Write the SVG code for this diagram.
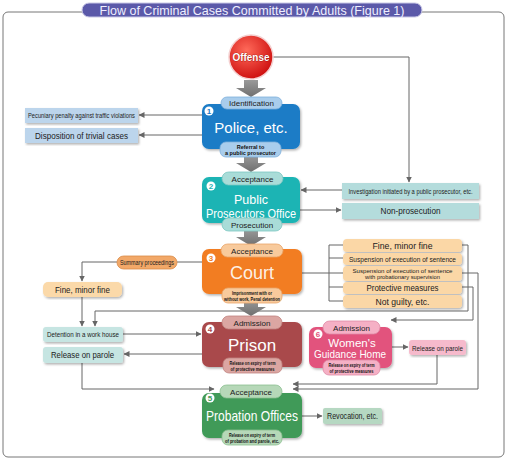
<svg xmlns="http://www.w3.org/2000/svg" width="525" height="467" viewBox="0 0 525 467">
<style>
text{font-family:"Liberation Sans",Arial,sans-serif;text-anchor:middle}
.c{fill:none;stroke:#666;stroke-width:1}
.ca{fill:none;stroke:#666;stroke-width:1;marker-end:url(#ah)}
.big{fill:#fff}
.sm{font-size:8px;fill:#222}
.tn{font-size:5.5px;fill:#111;font-weight:bold}
.bd{font-size:8px;font-weight:bold}
.pill{stroke-width:0.8}
</style>
<defs>
<marker id="ah" viewBox="0 0 6 6" refX="5.5" refY="3" markerWidth="6" markerHeight="6" orient="auto" markerUnits="userSpaceOnUse"><path d="M0,0L6,3L0,6z" fill="#666"/></marker>
<radialGradient id="rg" cx="0.4" cy="0.35" r="0.7"><stop offset="0" stop-color="#ff6a5a"/><stop offset="1" stop-color="#cc0c0c"/></radialGradient>
<linearGradient id="gg" x1="0" y1="0" x2="0" y2="1"><stop offset="0" stop-color="#9a9a9a"/><stop offset="1" stop-color="#6f6f6f"/></linearGradient>
<path id="bigArrow" d="M-7,0H7V8H15L0,17L-15,8H-7Z" fill="url(#gg)"/>
<filter id="sh" x="-10%" y="-10%" width="125%" height="130%"><feDropShadow dx="1.2" dy="1.5" stdDeviation="1" flood-color="#000" flood-opacity="0.3"/></filter>
</defs>
<rect width="525" height="467" fill="#fff"/>
<rect x="3" y="12" width="501" height="445" rx="5" fill="none" stroke="#777" stroke-width="1"/>
<g id="title">
<rect x="82" y="3" width="340" height="14" rx="7" fill="#5b59a9" stroke="#c9c8e6" stroke-width="1"/>
<text x="252" y="14.5" font-size="12.5" fill="#eef" textLength="305" lengthAdjust="spacingAndGlyphs">Flow of Criminal Cases Committed by Adults (Figure 1)</text>
</g>
<g id="connectors">
<path class="ca" d="M272,57H409V182"/>
<path class="ca" d="M342,190H301"/>
<path class="ca" d="M300,210H341"/>
<path class="ca" d="M202,115H139"/>
<path class="ca" d="M202,135H139"/>
<path class="c" d="M202,262H177"/>
<path class="ca" d="M117,262H82V281"/>
<path class="ca" d="M82,297V326"/>
<path class="c" d="M302,273H329M329,245V301M329,245H343M329,258H343M329,273H343M329,287H343M329,301H343"/>
<path class="ca" d="M462,245H468V311H95V326"/>
<path class="ca" d="M462,273H478V389H293"/>
<path class="ca" d="M462,287H473V320H391"/>
<path class="ca" d="M123,334H201"/>
<path class="ca" d="M202,354H124"/>
<path class="ca" d="M82,363V389H214"/>
<path class="ca" d="M392,347H408"/>
<path class="ca" d="M437,355V384H293"/>
<path class="ca" d="M302,416H322"/>
<use href="#bigArrow" x="251" y="80"/>
<use href="#bigArrow" x="251" y="155"/>
<use href="#bigArrow" x="251" y="229"/>
<use href="#bigArrow" x="251" y="299"/>
</g>
<g id="offense">
<circle cx="251" cy="57" r="22" fill="url(#rg)" stroke="#f4d0d0" stroke-width="1.5"/>
<text x="251" y="61" font-size="11.5" font-weight="bold" fill="#fff" stroke="#8a0000" stroke-width="0.6" paint-order="stroke" textLength="37" lengthAdjust="spacingAndGlyphs">Offense</text>
</g>
<g id="police">
<rect x="202" y="104" width="98" height="45" rx="7" fill="#1b7cc6" filter="url(#sh)"/>
<rect class="pill" x="221" y="97" width="61" height="12" rx="6" fill="#a9cdec" stroke="#7fb0dc"/>
<text class="sm" x="251.5" y="106">Identification</text>
<circle cx="209" cy="111" r="4.5" fill="#fff"/><text class="bd" x="209" y="114" fill="#1b7cc6">1</text>
<text class="big" x="251" y="133" font-size="15">Police, etc.</text>
<rect class="pill" x="220" y="142" width="61" height="15" rx="6" fill="#a9cdec" stroke="#7fb0dc"/>
<text class="tn" x="250.5" y="148.5">Referral to</text>
<text class="tn" x="250.5" y="155">a public prosecutor</text>
</g>
<g id="left-police">
<rect x="25" y="108" width="113" height="15" fill="#bcd5ec" filter="url(#sh)"/>
<text x="81.5" y="118" font-size="7" fill="#222" textLength="107" lengthAdjust="spacingAndGlyphs">Pecuniary penalty against traffic violations</text>
<rect x="25" y="128" width="113" height="15" fill="#bcd5ec" filter="url(#sh)"/>
<text x="81.5" y="138.5" font-size="9" fill="#222" textLength="93" lengthAdjust="spacingAndGlyphs">Disposition of trivial cases</text>
</g>
<g id="prosecutor">
<rect x="202" y="177" width="98" height="46" rx="7" fill="#1db4b4" filter="url(#sh)"/>
<rect class="pill" x="222" y="172" width="61" height="13" rx="6.5" fill="#a9dcd8" stroke="#7cc6c2"/>
<text class="sm" x="252.5" y="181.5">Acceptance</text>
<circle cx="211" cy="186" r="4.5" fill="#fff"/><text class="bd" x="211" y="189" fill="#1db4b4">2</text>
<text class="big" x="251" y="204" font-size="12.5">Public</text>
<text class="big" x="251" y="218" font-size="12.5" textLength="90" lengthAdjust="spacingAndGlyphs">Prosecutors Office</text>
<rect class="pill" x="222" y="218" width="60" height="13" rx="6.5" fill="#a9dcd8" stroke="#7cc6c2"/>
<text class="sm" x="252" y="227.5">Prosecution</text>
</g>
<g id="investigation">
<rect x="342" y="183" width="137" height="16" fill="#b4dcdc" filter="url(#sh)"/>
<text x="410.5" y="193.5" font-size="7" fill="#222" textLength="124" lengthAdjust="spacingAndGlyphs">Investigation initiated by a public prosecutor, etc.</text>
<rect x="342" y="203" width="137" height="16" fill="#b4dcdc" filter="url(#sh)"/>
<text x="410.5" y="214" font-size="9.5" fill="#222" textLength="60" lengthAdjust="spacingAndGlyphs">Non-prosecution</text>
</g>
<g id="court">
<rect x="202" y="249" width="100" height="45" rx="7" fill="#f27d22" filter="url(#sh)"/>
<rect class="pill" x="221" y="244" width="62" height="13" rx="6.5" fill="#f8ca9c" stroke="#e8a56a"/>
<text class="sm" x="252" y="253.5">Acceptance</text>
<circle cx="211" cy="258" r="4.5" fill="#fff"/><text class="bd" x="211" y="261" fill="#f27d22">3</text>
<text class="big" x="252" y="279" font-size="18" fill-opacity="0.9">Court</text>
<rect class="pill" x="222" y="288" width="60" height="15" rx="6" fill="#f8ca9c" stroke="#e8a56a"/>
<text class="tn" x="252" y="294.5" textLength="40" lengthAdjust="spacingAndGlyphs">Imprisonment with or</text>
<text class="tn" x="252" y="300.5" textLength="56" lengthAdjust="spacingAndGlyphs">without work, Penal detention</text>
</g>
<g id="summary">
<rect x="117" y="256" width="60" height="13" rx="6.5" fill="#f2a868" stroke="#d98a48" stroke-width="0.8"/>
<text x="147" y="265" font-size="7.5" fill="#222" textLength="54" lengthAdjust="spacingAndGlyphs">Summary proceedings</text>
</g>
<g id="fine-left">
<rect x="43" y="282" width="79" height="15" rx="5" fill="#fbd9a9" filter="url(#sh)"/>
<text x="82.5" y="292.5" font-size="9.5" fill="#222" textLength="55" lengthAdjust="spacingAndGlyphs">Fine, minor fine</text>
</g>
<g id="court-results">
<rect x="343" y="239" width="119" height="13" rx="4" fill="#fbd7a6" filter="url(#sh)"/>
<text x="402.5" y="248.5" font-size="9" fill="#222" textLength="60" lengthAdjust="spacingAndGlyphs">Fine, minor fine</text>
<rect x="343" y="253" width="119" height="12" rx="4" fill="#fbd7a6" filter="url(#sh)"/>
<text x="402.5" y="261.5" font-size="7" fill="#222" textLength="107" lengthAdjust="spacingAndGlyphs">Suspension of execution of sentence</text>
<rect x="343" y="266" width="119" height="15" rx="4" fill="#fbd7a6" filter="url(#sh)"/>
<text x="402.5" y="272.5" font-size="6" fill="#222" textLength="100" lengthAdjust="spacingAndGlyphs">Suspension of execution of sentence</text>
<text x="402.5" y="279" font-size="6" fill="#222" textLength="75" lengthAdjust="spacingAndGlyphs">with probationary supervision</text>
<rect x="343" y="282" width="119" height="12" rx="4" fill="#fbd7a6" filter="url(#sh)"/>
<text x="402.5" y="291" font-size="9" fill="#222" textLength="72" lengthAdjust="spacingAndGlyphs">Protective measures</text>
<rect x="343" y="295" width="119" height="13" rx="4" fill="#fbd7a6" filter="url(#sh)"/>
<text x="402.5" y="304.5" font-size="9" fill="#222" textLength="54" lengthAdjust="spacingAndGlyphs">Not guilty, etc.</text>
</g>
<g id="workhouse">
<rect x="43" y="327" width="80" height="15" rx="3" fill="#c6e5e2" filter="url(#sh)"/>
<text x="83" y="337" font-size="8" fill="#222" textLength="72" lengthAdjust="spacingAndGlyphs">Detention in a work house</text>
</g>
<g id="parole-left">
<rect x="43" y="347" width="80" height="16" rx="3" fill="#c6e5e2" filter="url(#sh)"/>
<text x="82.5" y="358" font-size="9" fill="#222" textLength="63" lengthAdjust="spacingAndGlyphs">Release on parole</text>
</g>
<g id="prison">
<rect x="202" y="322" width="100" height="45" rx="7" fill="#a94a4c" filter="url(#sh)"/>
<rect class="pill" x="222" y="316" width="60" height="13" rx="6.5" fill="#dba6a2" stroke="#c08480"/>
<text class="sm" x="252" y="325.5">Admission</text>
<circle cx="210" cy="329" r="4.5" fill="#fff"/><text class="bd" x="210" y="332" fill="#a94a4c">4</text>
<text class="big" x="252" y="351" font-size="17">Prison</text>
<rect class="pill" x="223" y="358" width="59" height="15" rx="6" fill="#dba6a2" stroke="#c08480"/>
<text class="tn" x="252.5" y="364.5" textLength="46" lengthAdjust="spacingAndGlyphs">Release on expiry of term</text>
<text class="tn" x="252.5" y="370.5" textLength="44" lengthAdjust="spacingAndGlyphs">of protective measures</text>
</g>
<g id="womens">
<rect x="309" y="327" width="83" height="41" rx="7" fill="#e2537d" filter="url(#sh)"/>
<rect class="pill" x="323" y="321" width="57" height="13" rx="6.5" fill="#f5b0c5" stroke="#e08aa6"/>
<text class="sm" x="351.5" y="330.5">Admission</text>
<circle cx="318" cy="334" r="4.5" fill="#fff"/><text class="bd" x="318" y="337" fill="#e2537d">6</text>
<text class="big" x="352" y="347" font-size="11.5">Women's</text>
<text class="big" x="350" y="358" font-size="11.5" textLength="72" lengthAdjust="spacingAndGlyphs">Guidance Home</text>
<rect class="pill" x="323" y="360" width="57" height="15" rx="6" fill="#f5b0c5" stroke="#e08aa6"/>
<text class="tn" x="351.5" y="366.5" textLength="46" lengthAdjust="spacingAndGlyphs">Release on expiry of term</text>
<text class="tn" x="351.5" y="372.5" textLength="44" lengthAdjust="spacingAndGlyphs">of protective measures</text>
</g>
<g id="parole-right">
<rect x="409" y="340" width="57" height="15" rx="3" fill="#f6bacc" filter="url(#sh)"/>
<text x="437.5" y="350.5" font-size="8" fill="#222" textLength="51" lengthAdjust="spacingAndGlyphs">Release on parole</text>
</g>
<g id="probation">
<rect x="202" y="393" width="100" height="45" rx="7" fill="#3f9a58" filter="url(#sh)"/>
<rect class="pill" x="220" y="385" width="62" height="13" rx="6.5" fill="#b6d8b8" stroke="#8cbf90"/>
<text class="sm" x="251" y="394.5">Acceptance</text>
<circle cx="210" cy="398" r="4.5" fill="#fff"/><text class="bd" x="210" y="401" fill="#3f9a58">5</text>
<text class="big" x="252" y="421" font-size="15" textLength="92" lengthAdjust="spacingAndGlyphs">Probation Offices</text>
<rect class="pill" x="222" y="430" width="60" height="15" rx="6" fill="#b6d8b8" stroke="#8cbf90"/>
<text class="tn" x="252" y="436.5" textLength="46" lengthAdjust="spacingAndGlyphs">Release on expiry of term</text>
<text class="tn" x="252" y="442.5" textLength="54" lengthAdjust="spacingAndGlyphs">of probation and parole, etc.</text>
</g>
<g id="revocation">
<rect x="323" y="408" width="59" height="16" rx="2" fill="#b6d8c2" filter="url(#sh)"/>
<text x="352.5" y="419" font-size="9" fill="#222" textLength="51" lengthAdjust="spacingAndGlyphs">Revocation, etc.</text>
</g>
</svg>
